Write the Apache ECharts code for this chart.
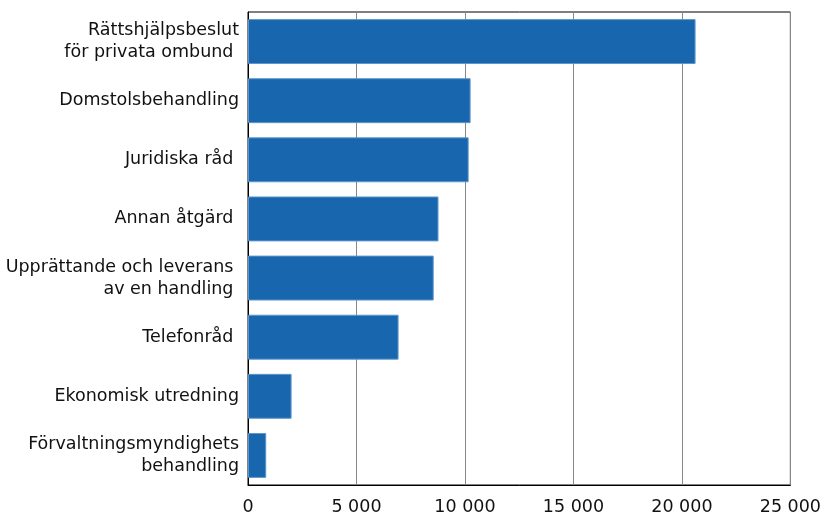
<!DOCTYPE html>
<html>
<head>
<meta charset="utf-8">
<script src="https://cdn.jsdelivr.net/npm/echarts@6/dist/echarts.min.js"></script>
<style>
html,body{margin:0;padding:0;background:#fff;}
#c{width:824px;height:516px;}
</style>
</head>
<body>
<div id="c"></div>
<script>
var categories = [
  "Rättshjälpsbeslut\nför privata ombund ",
  "Domstolsbehandling",
  "Juridiska råd ",
  "Annan åtgärd ",
  "Upprättande och leverans \nav en handling ",
  "Telefonråd ",
  "Ekonomisk utredning",
  "Förvaltningsmyndighets\nbehandling"
];
var values = [20630, 10260, 10170, 8780, 8560, 6940, 2010, 840];
var xTicks = { min: 0, max: 25000, interval: 5000 };

var chart = echarts.init(document.getElementById('c'), null, {renderer: 'canvas'});
chart.setOption({
  animation: false,
  grid: {
    left: 248, right: 32, top: 12, bottom: 30,
    show: true, borderColor: '#000', borderWidth: 1, backgroundColor: 'transparent'
  },
  xAxis: {
    type: 'value',
    min: xTicks.min, max: xTicks.max, interval: xTicks.interval,
    axisLine: { show: true, lineStyle: { color: '#000', width: 1 } },
    axisTick: { show: false },
    splitLine: { show: true, lineStyle: { color: '#888', width: 1 } },
    axisLabel: {
      margin: 13,
      color: '#111',
      fontFamily: 'DejaVu Sans',
      fontSize: 17.5,
      formatter: function (v) { return String(v).replace(/\B(?=(\d{3})+(?!\d))/g, ' '); }
    }
  },
  yAxis: {
    type: 'category',
    inverse: true,
    data: categories,
    axisLine: { show: true, lineStyle: { color: '#000', width: 1 } },
    axisTick: { show: false },
    splitLine: { show: false },
    axisLabel: {
      margin: 9,
      color: '#111',
      fontFamily: 'DejaVu Sans',
      fontSize: 17.5,
      lineHeight: 22,
      padding: [4, 0, 0, 0]
    }
  },
  series: [{
    type: 'bar',
    data: values,
    barCategoryGap: '24%',
    itemStyle: { color: '#1866ad', borderColor: '#5f97cc', borderWidth: 1 }
  }]
});
</script>
</body>
</html>
